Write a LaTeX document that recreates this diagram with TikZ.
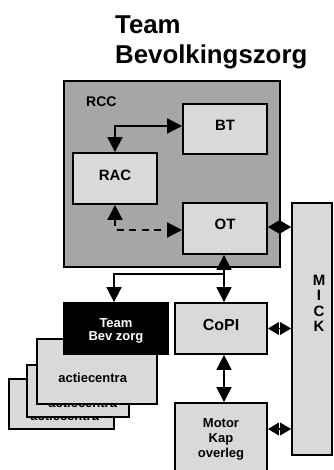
\documentclass[tikz,border=0pt]{standalone}
\usepackage{fontspec}
\setmainfont{Liberation Sans}
\usetikzlibrary{arrows.meta}
\definecolor{boxgray}{RGB}{217,217,217}
\definecolor{rccgray}{RGB}{166,166,166}
\tikzset{
  bigtip/.tip={Triangle[length=15pt,width=15pt]},
  smalltip/.tip={Triangle[length=11pt,width=12.5pt]},
}
\begin{document}
\begin{tikzpicture}[x=1pt,y=-1pt,
  box/.style={draw=black, line width=1.8pt, fill=boxgray, inner sep=0pt},
  txt/.style={font=\bfseries\fontsize{15}{17}\selectfont, inner sep=0pt, align=center},
  smalltxt/.style={font=\bfseries\fontsize{13}{15}\selectfont, inner sep=0pt, align=center},
  both/.style={line width=1.8pt, bigtip-bigtip},
  single/.style={line width=1.8pt, -bigtip},
  pair/.style={line width=1.8pt, smalltip-smalltip},
]
\useasboundingbox (0,0) rectangle (333,470);
\clip (0,0) rectangle (333,470);

% heading
\node[anchor=north west, inner sep=0pt, align=left,
      font=\bfseries\fontsize{25.8}{30}\selectfont] (title) at (115,16) {Team\\Bevolkingszorg};

% RCC frame with its teams
\node[box, fill=rccgray, minimum width=216, minimum height=186] (rcc) at (172,174) {};
\node[anchor=west, inner sep=0pt, font=\bfseries\fontsize{14}{16}\selectfont] (rcclabel) at (86,102) {RCC};
\node[box, minimum width=84, minimum height=50,
      label={[txt, yshift=4pt]center:BT}] (bt) at (225,129) {};
\node[box, minimum width=84, minimum height=51,
      label={[txt, yshift=3.5pt]center:RAC}] (rac) at (115,178.5) {};
\node[box, minimum width=84, minimum height=51,
      label={[txt, yshift=4.5pt]center:OT}] (ot) at (225,228.5) {};

% MICK column
\node[box, minimum width=40, minimum height=252,
      label={[font=\bfseries\fontsize{15}{15.5}\selectfont, inner sep=0pt, align=center,
              xshift=7pt, yshift=25.5pt]center:M\\I\\C\\K}] (mick) at (312,329) {};

% CoPI and Motor Kap overleg
\node[box, minimum width=92, minimum height=51,
      label={[txt, font=\bfseries\fontsize{16}{18}\selectfont, yshift=3.5pt]center:CoPI}] (copi) at (221,328.5) {};
\node[box, minimum width=92, minimum height=77,
      label={[smalltxt, yshift=2pt]center:Motor\\Kap\\overleg}] (motor) at (221,441.5) {};

% stacked action centre cards, back to front
\node[box, minimum width=105, minimum height=50] (card3) at (61.5,404) {};
\node[smalltxt] (card3text) at (64.7,416) {actiecentra};
\node[box, minimum width=102, minimum height=52] (card2) at (78,391) {};
\node[smalltxt] (card2text) at (82.7,402.5) {actiecentra};
\node[box, minimum width=120, minimum height=65] (card1) at (97,371.5) {};
\node[smalltxt] (card1text) at (92.7,377.5) {actiecentra};
\node[box, fill=black, minimum width=104, minimum height=51,
      label={[smalltxt, font=\bfseries\fontsize{13}{13}\selectfont, text=white, yshift=-2.5pt]center:Team\\Bev zorg}] (team) at (116,328.5) {};

% connectors
\draw[both] (rac.north) |- ([yshift=3pt]bt.west);
\draw[both, dash pattern=on 7pt off 5.5pt] (rac.south) |- ([yshift=-1.5pt]ot.west);
\draw[pair] ([yshift=1.5pt]ot.east) -- ([yshift=1.5pt]ot.east -| mick.west);
\draw[both] ([xshift=-1pt]ot.south) -- ([xshift=-1pt]ot.south |- copi.north);
\coordinate (split) at ([xshift=-1pt]ot.south |- 0,274);
\draw[single] (split) -| ([xshift=-2pt]team.north);
\draw[pair] (copi.east) -- (copi.east -| mick.west);
\draw[both] (copi.south -| split) -- (motor.north -| split);
\draw[pair] (motor.east |- 0,429) -- (mick.west |- 0,429);
\end{tikzpicture}
\end{document}
